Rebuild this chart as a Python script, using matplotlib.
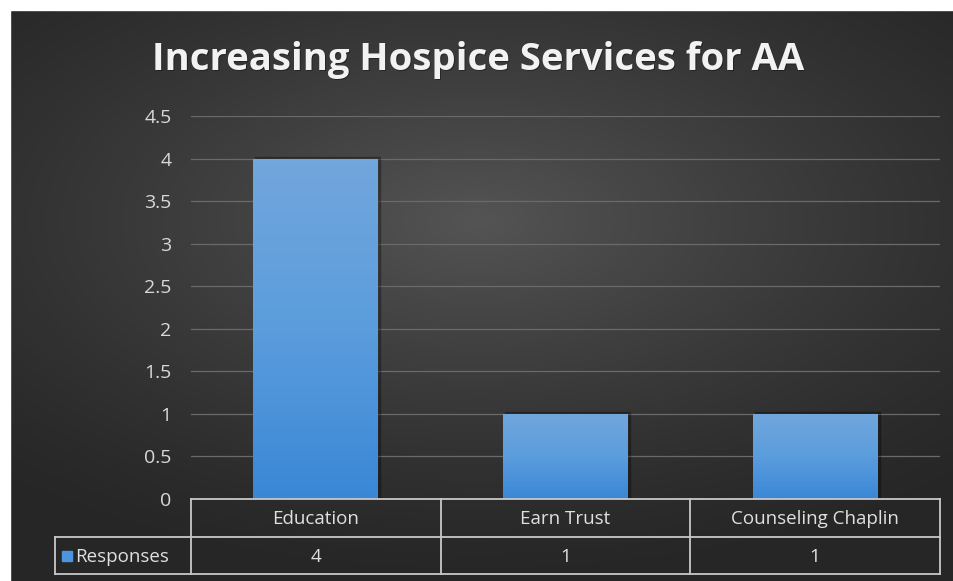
import numpy as np
import matplotlib
matplotlib.use("Agg")
import matplotlib.pyplot as plt
import matplotlib.transforms as mtransforms
from matplotlib.patches import Rectangle
from matplotlib.lines import Line2D
from matplotlib.colors import LinearSegmentedColormap

categories = ["Education", "Earn Trust", "Counseling Chaplin"]
responses = [4, 1, 1]
series_name = "Responses"
title = "Increasing Hospice Services for AA"
yticks = [0, 0.5, 1, 1.5, 2, 2.5, 3, 3.5, 4, 4.5]
ytick_labels = ["0", "0.5", "1", "1.5", "2", "2.5", "3", "3.5", "4", "4.5"]

FONT = ["Open Sans", "DejaVu Sans"]
plt.rcParams["font.family"] = FONT

W, H = 954, 581
fig = plt.figure(figsize=(W / 100, H / 100), dpi=100)
fig.patch.set_facecolor("#262626")

# background radial gradient
bg = fig.add_axes([0, 0, 1, 1])
bg.set_axis_off()
yy, xx = np.mgrid[0:1:300j, 0:1:500j]
cx, cy = 0.5, 0.62
r = np.sqrt(((xx - cx) * 1.0) ** 2 + ((yy - cy) * 1.2) ** 2)
val = np.clip(1 - r / 0.75, 0, 1)
lo, hi = 0.15, 0.33
img = lo + (hi - lo) * val ** 1.3
rgb = np.dstack([img, img, img])
bg.imshow(rgb, extent=[0, 1, 0, 1], aspect="auto", origin="lower", zorder=0)
bg.set_xlim(0, 1)
bg.set_ylim(0, 1)
# white margins at top and left
bg.add_patch(Rectangle((0, 1 - 10 / H), 1, 10 / H + 0.01, color="white", zorder=1))
bg.add_patch(Rectangle((0, 0), 10 / W, 1, color="white", zorder=1))

# main axes
L, R = 191 / W, 940 / W
B, T = 1 - 499 / H, 1 - 116 / H
ax = fig.add_axes([L, B, R - L, T - B])
ax.patch.set_alpha(0)
for s in ax.spines.values():
    s.set_visible(False)
ax.set_yticks(yticks)
ax.set_yticklabels(ytick_labels)
ax.tick_params(axis="y", length=0, pad=14, labelsize=14, labelcolor="#d9d9d9")
ax.set_xticks([])
ax.grid(axis="y", color="#6a6a6a", lw=0.9)
ax.set_axisbelow(True)

x = np.arange(len(categories))
bars = ax.bar(x, responses, width=0.5, color="#5b9bd5", zorder=2)
grad = np.linspace(0, 1, 256).reshape(-1, 1)
cmap = LinearSegmentedColormap.from_list("bb", ["#3a87d6", "#5b9ddd", "#72a6dc"])
for b in bars:
    bx, by = b.get_x(), b.get_y()
    bw, bh = b.get_width(), b.get_height()
    sh = Rectangle((bx + 0.008, by), bw, bh + 0.02, color="black", alpha=0.25, zorder=1.5)
    ax.add_patch(sh)
    im = ax.imshow(grad, extent=[bx, bx + bw, by, by + bh], aspect="auto",
                   origin="lower", cmap=cmap, zorder=2.5)
    im.set_clip_path(b)
ax.set_xlim(-0.5, len(categories) - 0.5)
ax.set_ylim(0, 4.5)

# title
shadow_tr = fig.transFigure + mtransforms.ScaledTranslation(1.5 / 100, -1.5 / 100, fig.dpi_scale_trans)
fig.text(478 / W, 1 - 70 / H, title, ha="center", va="baseline", fontsize=27.5,
         fontweight="bold", color="#000000", alpha=0.35, transform=shadow_tr)
fig.text(478 / W, 1 - 70 / H, title, ha="center", va="baseline", fontsize=27.5,
         fontweight="bold", color="#f2f2f2")

# data table
lc = "#c8c8c8"
lw = 1.3
def fx(px):
    return px / W
def fy(py):
    return 1 - py / H

bounds_px = [191, 441, 690, 940]
tab_top, tab_mid, tab_bot = 499, 537, 574
lab_left = 55
lines = [([191, 940], [tab_top, tab_top]),
         ([lab_left, 940], [tab_mid, tab_mid]),
         ([lab_left, 940], [tab_bot, tab_bot]),
         ([lab_left, lab_left], [tab_mid, tab_bot])]
for bpx in bounds_px:
    lines.append(([bpx, bpx], [tab_top, tab_bot]))
for xs, ys in lines:
    fig.add_artist(Line2D([fx(v) for v in xs], [fy(v) for v in ys], color=lc, lw=lw,
                          transform=fig.transFigure))

for i, (c, v) in enumerate(zip(categories, responses)):
    cxp = (bounds_px[i] + bounds_px[i + 1]) / 2
    fig.text(fx(cxp), fy((tab_top + tab_mid) / 2 + 1), c, ha="center", va="center",
             fontsize=13.5, color="#e0e0e0")
    fig.text(fx(cxp), fy((tab_mid + tab_bot) / 2 + 1), str(v), ha="center", va="center",
             fontsize=13.5, color="#e0e0e0")

fig.add_artist(Rectangle((fx(62), fy(561)), 10 / W, 10 / H, color="#4a95de",
                         transform=fig.transFigure))
fig.text(fx(75), fy((tab_mid + tab_bot) / 2 + 1), series_name, ha="left", va="center",
         fontsize=13.5, color="#e0e0e0")

fig.savefig("out.png", dpi=100, facecolor=fig.get_facecolor())
